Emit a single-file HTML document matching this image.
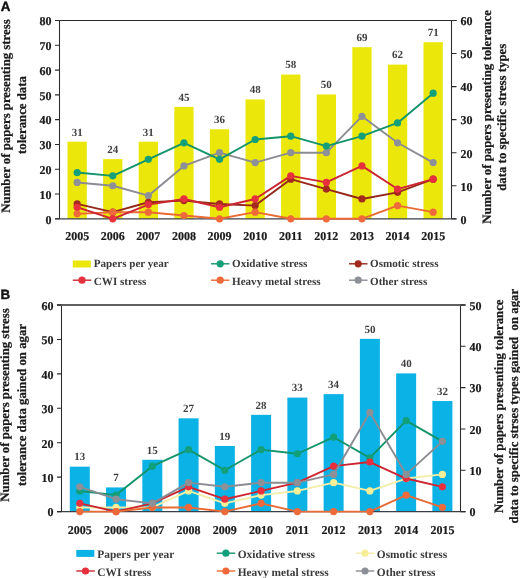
<!DOCTYPE html>
<html><head><meta charset="utf-8"><style>
html,body{margin:0;padding:0;background:#fff;}
svg{display:block;will-change:transform;filter:blur(0.25px);}
text{font-family:"Liberation Serif",serif;font-weight:bold;text-rendering:geometricPrecision;}
.tk{font-size:12px;fill:#1a1a1a;stroke:#1a1a1a;stroke-width:0.2px;}
.bl{font-size:11px;fill:#404040;text-anchor:middle;}
.lg{font-size:11.1px;fill:#3a3a3a;}
.lg2{font-size:11.4px;fill:#3a3a3a;}
.at{font-size:12.8px;fill:#1a1a1a;stroke:#1a1a1a;stroke-width:0.25px;}
.pl{font-family:"Liberation Sans",sans-serif;font-size:13.4px;fill:#111;stroke:#111;stroke-width:0.35px;}
</style></head><body>
<svg width="520" height="578" viewBox="0 0 520 578">
<rect x="67.5" y="141.7" width="19.3" height="77.1" fill="#ece70a"/>
<rect x="103.1" y="159.11" width="19.3" height="59.69" fill="#ece70a"/>
<rect x="138.7" y="141.7" width="19.3" height="77.1" fill="#ece70a"/>
<rect x="174.3" y="106.89" width="19.3" height="111.92" fill="#ece70a"/>
<rect x="209.9" y="129.27" width="19.3" height="89.53" fill="#ece70a"/>
<rect x="245.5" y="99.42" width="19.3" height="119.38" fill="#ece70a"/>
<rect x="281.1" y="74.55" width="19.3" height="144.25" fill="#ece70a"/>
<rect x="316.7" y="94.45" width="19.3" height="124.35" fill="#ece70a"/>
<rect x="352.3" y="47.2" width="19.3" height="171.6" fill="#ece70a"/>
<rect x="387.9" y="64.61" width="19.3" height="154.19" fill="#ece70a"/>
<rect x="423.5" y="42.22" width="19.3" height="176.58" fill="#ece70a"/>
<text class="bl" x="77.15" y="135.5">31</text>
<text class="bl" x="112.75" y="152.91">24</text>
<text class="bl" x="148.35" y="135.5">31</text>
<text class="bl" x="183.95" y="100.69">45</text>
<text class="bl" x="219.55" y="123.07">36</text>
<text class="bl" x="255.15" y="93.22">48</text>
<text class="bl" x="290.75" y="68.35">58</text>
<text class="bl" x="326.35" y="88.25">50</text>
<text class="bl" x="361.95" y="41">69</text>
<text class="bl" x="397.55" y="58.41">62</text>
<text class="bl" x="433.15" y="36.02">71</text>
<path d="M59.5 20.5V218.8M451.5 20.5V218.8" stroke="#2a2a2a" stroke-width="1.05" fill="none"/>
<path d="M55 20.5H456.5" stroke="#2a2a2a" stroke-width="1.2" fill="none"/>
<path d="M55 218.8H456.5" stroke="#3c3f48" stroke-width="1.2" fill="none"/>
<polyline points="77.15,182.44 112.75,185.75 148.35,195.67 183.95,165.92 219.55,152.7 255.15,162.62 290.75,152.7 326.35,152.7 361.95,116.35 397.55,142.78 433.15,162.62" fill="none" stroke="#8b8c93" stroke-width="1.9" stroke-linejoin="round"/>
<circle cx="77.15" cy="182.44" r="3.6" fill="#8e9098"/>
<circle cx="112.75" cy="185.75" r="3.6" fill="#8e9098"/>
<circle cx="148.35" cy="195.67" r="3.6" fill="#8e9098"/>
<circle cx="183.95" cy="165.92" r="3.6" fill="#8e9098"/>
<circle cx="219.55" cy="152.7" r="3.6" fill="#8e9098"/>
<circle cx="255.15" cy="162.62" r="3.6" fill="#8e9098"/>
<circle cx="290.75" cy="152.7" r="3.6" fill="#8e9098"/>
<circle cx="326.35" cy="152.7" r="3.6" fill="#8e9098"/>
<circle cx="361.95" cy="116.35" r="3.6" fill="#8e9098"/>
<circle cx="397.55" cy="142.78" r="3.6" fill="#8e9098"/>
<circle cx="433.15" cy="162.62" r="3.6" fill="#8e9098"/>
<polyline points="77.15,172.53 112.75,175.84 148.35,159.31 183.95,142.78 219.55,159.31 255.15,139.48 290.75,136.18 326.35,146.09 361.95,136.18 397.55,122.95 433.15,93.21" fill="none" stroke="#13946a" stroke-width="1.9" stroke-linejoin="round"/>
<circle cx="77.15" cy="172.53" r="3.6" fill="#12a07a"/>
<circle cx="112.75" cy="175.84" r="3.6" fill="#12a07a"/>
<circle cx="148.35" cy="159.31" r="3.6" fill="#12a07a"/>
<circle cx="183.95" cy="142.78" r="3.6" fill="#12a07a"/>
<circle cx="219.55" cy="159.31" r="3.6" fill="#12a07a"/>
<circle cx="255.15" cy="139.48" r="3.6" fill="#12a07a"/>
<circle cx="290.75" cy="136.18" r="3.6" fill="#12a07a"/>
<circle cx="326.35" cy="146.09" r="3.6" fill="#12a07a"/>
<circle cx="361.95" cy="136.18" r="3.6" fill="#12a07a"/>
<circle cx="397.55" cy="122.95" r="3.6" fill="#12a07a"/>
<circle cx="433.15" cy="93.21" r="3.6" fill="#12a07a"/>
<polyline points="77.15,203.93 112.75,212.19 148.35,202.28 183.95,200.62 219.55,203.93 255.15,205.58 290.75,179.14 326.35,189.06 361.95,198.97 397.55,192.36 433.15,179.14" fill="none" stroke="#952619" stroke-width="1.9" stroke-linejoin="round"/>
<circle cx="77.15" cy="203.93" r="3.6" fill="#a52a1e"/>
<circle cx="112.75" cy="212.19" r="3.6" fill="#a52a1e"/>
<circle cx="148.35" cy="202.28" r="3.6" fill="#a52a1e"/>
<circle cx="183.95" cy="200.62" r="3.6" fill="#a52a1e"/>
<circle cx="219.55" cy="203.93" r="3.6" fill="#a52a1e"/>
<circle cx="255.15" cy="205.58" r="3.6" fill="#a52a1e"/>
<circle cx="290.75" cy="179.14" r="3.6" fill="#a52a1e"/>
<circle cx="326.35" cy="189.06" r="3.6" fill="#a52a1e"/>
<circle cx="361.95" cy="198.97" r="3.6" fill="#a52a1e"/>
<circle cx="397.55" cy="192.36" r="3.6" fill="#a52a1e"/>
<circle cx="433.15" cy="179.14" r="3.6" fill="#a52a1e"/>
<polyline points="77.15,213.84 112.75,212.19 148.35,212.19 183.95,215.5 219.55,218.8 255.15,212.19 290.75,218.8 326.35,218.8 361.95,218.8 397.55,205.58 433.15,212.19" fill="none" stroke="#ea6a34" stroke-width="1.9" stroke-linejoin="round"/>
<circle cx="77.15" cy="213.84" r="3.6" fill="#ee6a3a"/>
<circle cx="112.75" cy="212.19" r="3.6" fill="#ee6a3a"/>
<circle cx="148.35" cy="212.19" r="3.6" fill="#ee6a3a"/>
<circle cx="183.95" cy="215.5" r="3.6" fill="#ee6a3a"/>
<circle cx="219.55" cy="218.8" r="3.6" fill="#ee6a3a"/>
<circle cx="255.15" cy="212.19" r="3.6" fill="#ee6a3a"/>
<circle cx="290.75" cy="218.8" r="3.6" fill="#ee6a3a"/>
<circle cx="326.35" cy="218.8" r="3.6" fill="#ee6a3a"/>
<circle cx="361.95" cy="218.8" r="3.6" fill="#ee6a3a"/>
<circle cx="397.55" cy="205.58" r="3.6" fill="#ee6a3a"/>
<circle cx="433.15" cy="212.19" r="3.6" fill="#ee6a3a"/>
<polyline points="77.15,207.23 112.75,218.8 148.35,204.59 183.95,198.97 219.55,207.23 255.15,198.97 290.75,175.84 326.35,182.44 361.95,165.92 397.55,189.06 433.15,179.14" fill="none" stroke="#cc2630" stroke-width="1.9" stroke-linejoin="round"/>
<circle cx="77.15" cy="207.23" r="3.6" fill="#e6303e"/>
<circle cx="112.75" cy="218.8" r="3.6" fill="#e6303e"/>
<circle cx="148.35" cy="204.59" r="3.6" fill="#e6303e"/>
<circle cx="183.95" cy="198.97" r="3.6" fill="#e6303e"/>
<circle cx="219.55" cy="207.23" r="3.6" fill="#e6303e"/>
<circle cx="255.15" cy="198.97" r="3.6" fill="#e6303e"/>
<circle cx="290.75" cy="175.84" r="3.6" fill="#e6303e"/>
<circle cx="326.35" cy="182.44" r="3.6" fill="#e6303e"/>
<circle cx="361.95" cy="165.92" r="3.6" fill="#e6303e"/>
<circle cx="397.55" cy="189.06" r="3.6" fill="#e6303e"/>
<circle cx="433.15" cy="179.14" r="3.6" fill="#e6303e"/>
<path d="M55 218.8H59.5M55 194.01H59.5M55 169.23H59.5M55 144.44H59.5M55 119.65H59.5M55 94.86H59.5M55 70.08H59.5M55 45.29H59.5M55 20.5H59.5M451.5 218.8H456.5M451.5 185.75H456.5M451.5 152.7H456.5M451.5 119.65H456.5M451.5 86.6H456.5M451.5 53.55H456.5M451.5 20.5H456.5" stroke="#2a2a2a" stroke-width="1.1" fill="none"/>
<text class="tk" x="51.5" y="223.6" text-anchor="end">0</text>
<text class="tk" x="51.5" y="198.81" text-anchor="end">10</text>
<text class="tk" x="51.5" y="174.03" text-anchor="end">20</text>
<text class="tk" x="51.5" y="149.24" text-anchor="end">30</text>
<text class="tk" x="51.5" y="124.45" text-anchor="end">40</text>
<text class="tk" x="51.5" y="99.66" text-anchor="end">50</text>
<text class="tk" x="51.5" y="74.88" text-anchor="end">60</text>
<text class="tk" x="51.5" y="50.09" text-anchor="end">70</text>
<text class="tk" x="51.5" y="25.3" text-anchor="end">80</text>
<text class="tk" x="460.5" y="223.6">0</text>
<text class="tk" x="460.5" y="190.55">10</text>
<text class="tk" x="460.5" y="157.5">20</text>
<text class="tk" x="460.5" y="124.45">30</text>
<text class="tk" x="460.5" y="91.4">40</text>
<text class="tk" x="460.5" y="58.35">50</text>
<text class="tk" x="460.5" y="25.3">60</text>
<text class="tk" x="77.15" y="240.3" text-anchor="middle">2005</text>
<text class="tk" x="112.75" y="240.3" text-anchor="middle">2006</text>
<text class="tk" x="148.35" y="240.3" text-anchor="middle">2007</text>
<text class="tk" x="183.95" y="240.3" text-anchor="middle">2008</text>
<text class="tk" x="219.55" y="240.3" text-anchor="middle">2009</text>
<text class="tk" x="255.15" y="240.3" text-anchor="middle">2010</text>
<text class="tk" x="290.75" y="240.3" text-anchor="middle">2011</text>
<text class="tk" x="326.35" y="240.3" text-anchor="middle">2012</text>
<text class="tk" x="361.95" y="240.3" text-anchor="middle">2013</text>
<text class="tk" x="397.55" y="240.3" text-anchor="middle">2014</text>
<text class="tk" x="433.15" y="240.3" text-anchor="middle">2015</text>
<rect x="69.8" y="466.69" width="20" height="44.92" fill="#0bb2e6"/>
<rect x="106.06" y="487.42" width="20" height="24.19" fill="#0bb2e6"/>
<rect x="142.32" y="459.78" width="20" height="51.82" fill="#0bb2e6"/>
<rect x="178.58" y="418.32" width="20" height="93.28" fill="#0bb2e6"/>
<rect x="214.84" y="445.96" width="20" height="65.64" fill="#0bb2e6"/>
<rect x="251.1" y="414.86" width="20" height="96.74" fill="#0bb2e6"/>
<rect x="287.36" y="397.59" width="20" height="114.01" fill="#0bb2e6"/>
<rect x="323.62" y="394.13" width="20" height="117.47" fill="#0bb2e6"/>
<rect x="359.88" y="338.85" width="20" height="172.75" fill="#0bb2e6"/>
<rect x="396.14" y="373.4" width="20" height="138.2" fill="#0bb2e6"/>
<rect x="432.4" y="401.04" width="20" height="110.56" fill="#0bb2e6"/>
<text class="bl" x="79.8" y="460.49">13</text>
<text class="bl" x="116.06" y="481.22">7</text>
<text class="bl" x="152.32" y="453.58">15</text>
<text class="bl" x="188.58" y="412.12">27</text>
<text class="bl" x="224.84" y="439.76">19</text>
<text class="bl" x="261.1" y="408.66">28</text>
<text class="bl" x="297.36" y="391.39">33</text>
<text class="bl" x="333.62" y="387.93">34</text>
<text class="bl" x="369.88" y="332.65">50</text>
<text class="bl" x="406.14" y="367.2">40</text>
<text class="bl" x="442.4" y="394.84">32</text>
<path d="M61.5 305V511.6M460.5 305V511.6" stroke="#2a2a2a" stroke-width="1.05" fill="none"/>
<path d="M57 304.9H465.5" stroke="#606060" stroke-width="2.0" fill="none"/>
<path d="M57 511.6H465.5" stroke="#3c3f48" stroke-width="1.2" fill="none"/>
<polyline points="79.8,490.94 116.06,495.07 152.32,466.15 188.58,449.62 224.84,470.28 261.1,449.62 297.36,453.75 333.62,437.22 369.88,457.88 406.14,420.7 442.4,441.36" fill="none" stroke="#13946a" stroke-width="1.9" stroke-linejoin="round"/>
<circle cx="79.8" cy="490.94" r="3.6" fill="#12a07a"/>
<circle cx="116.06" cy="495.07" r="3.6" fill="#12a07a"/>
<circle cx="152.32" cy="466.15" r="3.6" fill="#12a07a"/>
<circle cx="188.58" cy="449.62" r="3.6" fill="#12a07a"/>
<circle cx="224.84" cy="470.28" r="3.6" fill="#12a07a"/>
<circle cx="261.1" cy="449.62" r="3.6" fill="#12a07a"/>
<circle cx="297.36" cy="453.75" r="3.6" fill="#12a07a"/>
<circle cx="333.62" cy="437.22" r="3.6" fill="#12a07a"/>
<circle cx="369.88" cy="457.88" r="3.6" fill="#12a07a"/>
<circle cx="406.14" cy="420.7" r="3.6" fill="#12a07a"/>
<circle cx="442.4" cy="441.36" r="3.6" fill="#12a07a"/>
<polyline points="79.8,507.47 116.06,507.47 152.32,507.47 188.58,490.94 224.84,503.34 261.1,495.07 297.36,490.94 333.62,482.68 369.88,490.94 406.14,478.54 442.4,474.41" fill="none" stroke="#f3eea8" stroke-width="1.9" stroke-linejoin="round"/>
<circle cx="79.8" cy="507.47" r="3.6" fill="#f6ef98"/>
<circle cx="116.06" cy="507.47" r="3.6" fill="#f6ef98"/>
<circle cx="152.32" cy="507.47" r="3.6" fill="#f6ef98"/>
<circle cx="188.58" cy="490.94" r="3.6" fill="#f6ef98"/>
<circle cx="224.84" cy="503.34" r="3.6" fill="#f6ef98"/>
<circle cx="261.1" cy="495.07" r="3.6" fill="#f6ef98"/>
<circle cx="297.36" cy="490.94" r="3.6" fill="#f6ef98"/>
<circle cx="333.62" cy="482.68" r="3.6" fill="#f6ef98"/>
<circle cx="369.88" cy="490.94" r="3.6" fill="#f6ef98"/>
<circle cx="406.14" cy="478.54" r="3.6" fill="#f6ef98"/>
<circle cx="442.4" cy="474.41" r="3.6" fill="#f6ef98"/>
<polyline points="79.8,503.34 116.06,511.6 152.32,503.34 188.58,486.81 224.84,499.2 261.1,490.94 297.36,482.68 333.62,466.15 369.88,462.02 406.14,478.54 442.4,486.81" fill="none" stroke="#cc2630" stroke-width="1.9" stroke-linejoin="round"/>
<circle cx="79.8" cy="503.34" r="3.6" fill="#e6303e"/>
<circle cx="116.06" cy="511.6" r="3.6" fill="#e6303e"/>
<circle cx="152.32" cy="503.34" r="3.6" fill="#e6303e"/>
<circle cx="188.58" cy="486.81" r="3.6" fill="#e6303e"/>
<circle cx="224.84" cy="499.2" r="3.6" fill="#e6303e"/>
<circle cx="261.1" cy="490.94" r="3.6" fill="#e6303e"/>
<circle cx="297.36" cy="482.68" r="3.6" fill="#e6303e"/>
<circle cx="333.62" cy="466.15" r="3.6" fill="#e6303e"/>
<circle cx="369.88" cy="462.02" r="3.6" fill="#e6303e"/>
<circle cx="406.14" cy="478.54" r="3.6" fill="#e6303e"/>
<circle cx="442.4" cy="486.81" r="3.6" fill="#e6303e"/>
<polyline points="79.8,511.6 116.06,511.6 152.32,507.47 188.58,507.47 224.84,511.6 261.1,503.34 297.36,511.6 333.62,511.6 369.88,511.6 406.14,495.07 442.4,507.47" fill="none" stroke="#ea6a34" stroke-width="1.9" stroke-linejoin="round"/>
<circle cx="79.8" cy="511.6" r="3.6" fill="#ee6a3a"/>
<circle cx="116.06" cy="511.6" r="3.6" fill="#ee6a3a"/>
<circle cx="152.32" cy="507.47" r="3.6" fill="#ee6a3a"/>
<circle cx="188.58" cy="507.47" r="3.6" fill="#ee6a3a"/>
<circle cx="224.84" cy="511.6" r="3.6" fill="#ee6a3a"/>
<circle cx="261.1" cy="503.34" r="3.6" fill="#ee6a3a"/>
<circle cx="297.36" cy="511.6" r="3.6" fill="#ee6a3a"/>
<circle cx="333.62" cy="511.6" r="3.6" fill="#ee6a3a"/>
<circle cx="369.88" cy="511.6" r="3.6" fill="#ee6a3a"/>
<circle cx="406.14" cy="495.07" r="3.6" fill="#ee6a3a"/>
<circle cx="442.4" cy="507.47" r="3.6" fill="#ee6a3a"/>
<polyline points="79.8,486.81 116.06,499.2 152.32,503.34 188.58,482.68 224.84,486.81 261.1,482.68 297.36,482.68 333.62,474.41 369.88,412.43 406.14,474.41 442.4,441.36" fill="none" stroke="#8b8c93" stroke-width="1.9" stroke-linejoin="round"/>
<circle cx="79.8" cy="486.81" r="3.6" fill="#8e9098"/>
<circle cx="116.06" cy="499.2" r="3.6" fill="#8e9098"/>
<circle cx="152.32" cy="503.34" r="3.6" fill="#8e9098"/>
<circle cx="188.58" cy="482.68" r="3.6" fill="#8e9098"/>
<circle cx="224.84" cy="486.81" r="3.6" fill="#8e9098"/>
<circle cx="261.1" cy="482.68" r="3.6" fill="#8e9098"/>
<circle cx="297.36" cy="482.68" r="3.6" fill="#8e9098"/>
<circle cx="333.62" cy="474.41" r="3.6" fill="#8e9098"/>
<circle cx="369.88" cy="412.43" r="3.6" fill="#8e9098"/>
<circle cx="406.14" cy="474.41" r="3.6" fill="#8e9098"/>
<circle cx="442.4" cy="441.36" r="3.6" fill="#8e9098"/>
<path d="M57 511.6H61.5M57 477.17H61.5M57 442.73H61.5M57 408.3H61.5M57 373.87H61.5M57 339.43H61.5M57 305H61.5M460.5 511.6H465.5M460.5 470.28H465.5M460.5 428.96H465.5M460.5 387.64H465.5M460.5 346.32H465.5M460.5 305H465.5" stroke="#2a2a2a" stroke-width="1.1" fill="none"/>
<text class="tk" x="53.5" y="516.4" text-anchor="end">0</text>
<text class="tk" x="53.5" y="481.97" text-anchor="end">10</text>
<text class="tk" x="53.5" y="447.53" text-anchor="end">20</text>
<text class="tk" x="53.5" y="413.1" text-anchor="end">30</text>
<text class="tk" x="53.5" y="378.67" text-anchor="end">40</text>
<text class="tk" x="53.5" y="344.23" text-anchor="end">50</text>
<text class="tk" x="53.5" y="309.8" text-anchor="end">60</text>
<text class="tk" x="469.5" y="516.4">0</text>
<text class="tk" x="469.5" y="475.08">10</text>
<text class="tk" x="469.5" y="433.76">20</text>
<text class="tk" x="469.5" y="392.44">30</text>
<text class="tk" x="469.5" y="351.12">40</text>
<text class="tk" x="469.5" y="309.8">50</text>
<text class="tk" x="79.8" y="533.6" text-anchor="middle">2005</text>
<text class="tk" x="116.06" y="533.6" text-anchor="middle">2006</text>
<text class="tk" x="152.32" y="533.6" text-anchor="middle">2007</text>
<text class="tk" x="188.58" y="533.6" text-anchor="middle">2008</text>
<text class="tk" x="224.84" y="533.6" text-anchor="middle">2009</text>
<text class="tk" x="261.1" y="533.6" text-anchor="middle">2010</text>
<text class="tk" x="297.36" y="533.6" text-anchor="middle">2011</text>
<text class="tk" x="333.62" y="533.6" text-anchor="middle">2012</text>
<text class="tk" x="369.88" y="533.6" text-anchor="middle">2013</text>
<text class="tk" x="406.14" y="533.6" text-anchor="middle">2014</text>
<text class="tk" x="442.4" y="533.6" text-anchor="middle">2015</text>
<rect x="72.8" y="260.5" width="18" height="7.0" fill="#ece70a"/>
<text class="lg" x="93.8" y="267.4">Papers per year</text>
<path d="M211 263.8h18.5" stroke="#13946a" stroke-width="1.4"/>
<circle cx="220.2" cy="263.8" r="3.6" fill="#12a07a"/>
<text class="lg" x="232" y="267.4">Oxidative stress</text>
<path d="M349 263.8h18.5" stroke="#952619" stroke-width="1.4"/>
<circle cx="358.2" cy="263.8" r="3.6" fill="#a52a1e"/>
<text class="lg" x="370" y="267.4">Osmotic stress</text>
<path d="M72.8 280.2h18.5" stroke="#cc2630" stroke-width="1.4"/>
<circle cx="82" cy="280.2" r="3.6" fill="#e6303e"/>
<text class="lg" x="93.8" y="285">CWI stress</text>
<path d="M211 280.2h18.5" stroke="#ea6a34" stroke-width="1.4"/>
<circle cx="220.2" cy="280.2" r="3.6" fill="#ee6a3a"/>
<text class="lg" x="232" y="285">Heavy metal stress</text>
<path d="M349 280.2h18.5" stroke="#8b8c93" stroke-width="1.4"/>
<circle cx="358.2" cy="280.2" r="3.6" fill="#8e9098"/>
<text class="lg" x="370" y="285">Other stress</text>
<rect x="76.3" y="549.9" width="18" height="7.0" fill="#0bb2e6"/>
<text class="lg2" x="97.3" y="558">Papers per year</text>
<path d="M216.7 553.2h18.5" stroke="#13946a" stroke-width="1.4"/>
<circle cx="225.9" cy="553.2" r="3.6" fill="#12a07a"/>
<text class="lg2" x="237.7" y="558">Oxidative stress</text>
<path d="M355.8 553.2h18.5" stroke="#f3eea8" stroke-width="1.4"/>
<circle cx="365" cy="553.2" r="3.6" fill="#f6ef98"/>
<text class="lg2" x="376.8" y="558">Osmotic stress</text>
<path d="M76.3 571h18.5" stroke="#cc2630" stroke-width="1.4"/>
<circle cx="85.5" cy="571" r="3.6" fill="#e6303e"/>
<text class="lg2" x="97.3" y="575.8">CWI stress</text>
<path d="M216.7 571h18.5" stroke="#ea6a34" stroke-width="1.4"/>
<circle cx="225.9" cy="571" r="3.6" fill="#ee6a3a"/>
<text class="lg2" x="237.7" y="575.8">Heavy metal stress</text>
<path d="M355.8 571h18.5" stroke="#8b8c93" stroke-width="1.4"/>
<circle cx="365" cy="571" r="3.6" fill="#8e9098"/>
<text class="lg2" x="376.8" y="575.8">Other stress</text>
<text class="pl" x="0.8" y="11.2">A</text>
<text class="pl" x="0.6" y="299.2">B</text>
<text class="at" transform="translate(9.6,116) rotate(-90)" text-anchor="middle">Number of papers presenting stress</text>
<text class="at" transform="translate(25.6,115) rotate(-90)" text-anchor="middle">tolerance data</text>
<text class="at" transform="translate(490.8,116.9) rotate(-90)" text-anchor="middle">Number of papers presenting tolerance</text>
<text class="at" transform="translate(505.7,117.3) rotate(-90)" text-anchor="middle">data to specific stress types</text>
<text class="at" transform="translate(9.4,405) rotate(-90)" text-anchor="middle">Number of papers presenting stress</text>
<text class="at" transform="translate(26.3,405) rotate(-90)" text-anchor="middle">tolerance data gained on agar</text>
<text class="at" transform="translate(502.9,406.2) rotate(-90)" text-anchor="middle">Number of papers presenting tolerance</text>
<text class="at" transform="translate(517.6,406.1) rotate(-90)" text-anchor="middle">data to specific strses types gained&#160; on agar</text>
</svg>
</body></html>
